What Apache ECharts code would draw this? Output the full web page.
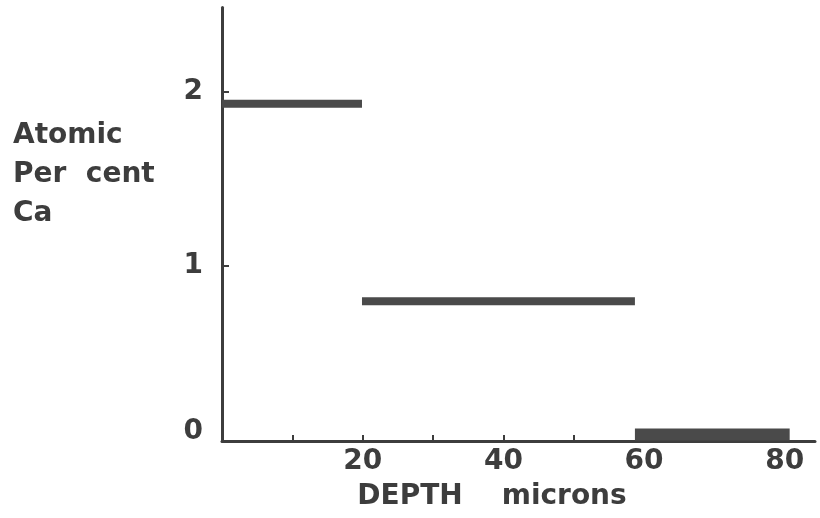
<!DOCTYPE html>
<html><head><meta charset="utf-8">
<script src="https://cdn.jsdelivr.net/npm/echarts@6/dist/echarts.min.js"></script>
<style>html,body{margin:0;padding:0;background:#fff}#c{width:820px;height:518px}</style>
</head><body><div id="c"></div>
<script>
// Data
const segStart = [0, 19.9, 58.7];   // depth (microns) where each level starts
const segEnd   = [19.9, 58.7, 80.7]; // depth where each level ends
const segValue = [1.93, 0.80, 0.037]; // atomic per cent Ca
const segWidth = [8, 8, 12];
const xTicks = [10, 20, 30, 40, 50, 60, 70, 80];
const xLabels = [20, 40, 60, 80];
const yTicks = [1, 2];
const yLabels = [0, 1, 2];
const yTitle = ['Atomic', 'Per  cent', 'Ca'];
const xTitle = 'DEPTH    microns';

const ink = '#3d3d3d';
const font = 'DejaVu Sans';
const chart = echarts.init(document.getElementById('c'), null, {renderer: 'canvas'});
const series = segValue.map((v, i) => ({
  type: 'line',
  data: [[segStart[i], v], [segEnd[i], v]],
  symbol: 'none',
  lineStyle: {color: '#4a4a4a', width: segWidth[i], cap: 'butt'},
  z: 3,
  animation: false
}));
chart.setOption({
  backgroundColor: '#ffffff',
  animation: false,
  grid: {left: 222, top: 7.5, right: 5, bottom: 77},
  xAxis: {
    type: 'value', min: 0, max: 84.3,
    axisLine: {show: true, onZero: false, lineStyle: {color: ink, width: 3}},
    axisTick: {show: true, inside: true, length: 6, customValues: xTicks, lineStyle: {color: ink, width: 2}},
    axisLabel: {customValues: xLabels, margin: 7, color: ink, fontFamily: font, fontWeight: 'bold', fontSize: 28},
    splitLine: {show: false}
  },
  yAxis: {
    type: 'value', min: 0, max: 2.48,
    axisLine: {show: true, onZero: false, lineStyle: {color: ink, width: 3}},
    axisTick: {show: true, inside: true, length: 7, customValues: yTicks, lineStyle: {color: ink, width: 2}},
    axisLabel: {
      customValues: yLabels, margin: 19, color: ink, fontFamily: font, fontWeight: 'bold', fontSize: 28,
      formatter: v => v === 0 ? '{z|0}' : String(v),
      rich: {z: {fontFamily: font, fontWeight: 'bold', fontSize: 28, color: ink, padding: [0, 0, 18, 0]}}
    },
    splitLine: {show: false}
  },
  graphic: [
    {type: 'text', left: 13, top: 116, style: {text: yTitle.join('\n'), fill: ink, font: 'bold 28px "DejaVu Sans"', lineHeight: 39}},
    {type: 'text', x: 492, y: 497, style: {text: xTitle, fill: ink, font: 'bold 28px "DejaVu Sans"', align: 'center', verticalAlign: 'middle'}}
  ],
  series: series
});
</script></body></html>
